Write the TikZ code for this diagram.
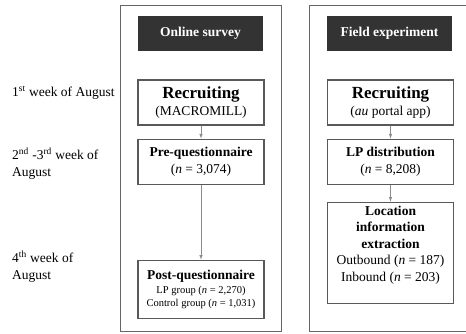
\documentclass[tikz,border=0pt]{standalone}
\usepackage{fontspec}
\setmainfont{Liberation Serif}
\usetikzlibrary{arrows,positioning}

\begin{document}
\begin{tikzpicture}[x=1pt,y=-1pt,node distance=13pt,
    panel/.style={draw=black!60,line width=0.9pt},
    header/.style={fill=black!80,text=white,font=\bfseries\fontsize{13.5}{16}\selectfont,
      minimum width=125pt,minimum height=35pt,inner sep=0pt},
    stage/.style={draw=black!65,line width=1.1pt,fill=white,minimum width=126pt,
      align=center,inner sep=2pt,font=\fontsize{13.5}{16.5}\selectfont},
    week/.style={anchor=west,align=left,inner sep=0pt,font=\fontsize{13.5}{17}\selectfont},
    flow/.style={-latex,draw=black!45,line width=0.6pt}]
  \useasboundingbox (0,0) rectangle (466,333);

  % weeks
  \node[week] (w1) at (12,93)    {1\textsuperscript{st} week of August};
  \node[week] (w2) at (12,163.5) {2\textsuperscript{nd} -3\textsuperscript{rd} week of\\August};
  \node[week] (w4) at (12,266.5) {4\textsuperscript{th} week of\\August};

  \begin{scope}
    \draw[panel] (120,5) rectangle (281,331);
    \node[header] (ha) at (200.5,33.5) {Online survey};

    \node[stage,minimum height=45pt] (reca) at (201,102.5)
      {{\bfseries\fontsize{17}{19}\selectfont Recruiting}\\(MACROMILL)};
    \node[stage,minimum height=45pt] (pre) [below=of reca]
      {\textbf{Pre-questionnaire}\\(\textit{n} = 3,074)};
    \node[stage,minimum height=58pt] (post) [below=75pt of pre]
      {\textbf{Post-questionnaire}\\[-2.5pt]
       {\fontsize{10.5}{13}\selectfont LP group (\textit{n} = 2,270)}\\[-3pt]
       {\fontsize{10.5}{13}\selectfont Control group (\textit{n} = 1,031)}};

    \draw[flow] (reca) -- (pre);
    \draw[flow] (pre) -- (post);
  \end{scope}

  \begin{scope}[xshift=189pt]
    \draw[panel] (120,5) rectangle (281,331);
    \node[header] (hb) at (200.5,33.5) {Field experiment};

    \node[stage,minimum height=45pt] (recb) at (201.5,102.5)
      {{\bfseries\fontsize{17}{19}\selectfont Recruiting}\\(\textit{au} portal app)};
    \node[stage,minimum height=45pt] (lp) [below=of recb]
      {\textbf{LP distribution}\\(\textit{n} = 8,208)};
    \node[stage,minimum height=101pt] (loc) [below=17pt of lp]
      {\textbf{Location}\\\textbf{information}\\\textbf{extraction}\\
       Outbound (\textit{n} = 187)\\Inbound (\textit{n} = 203)\\[2pt]\mbox{}};

    \draw[flow] (recb) -- (lp);
    \draw[flow] (lp) -- (loc);
  \end{scope}
\end{tikzpicture}
\end{document}
